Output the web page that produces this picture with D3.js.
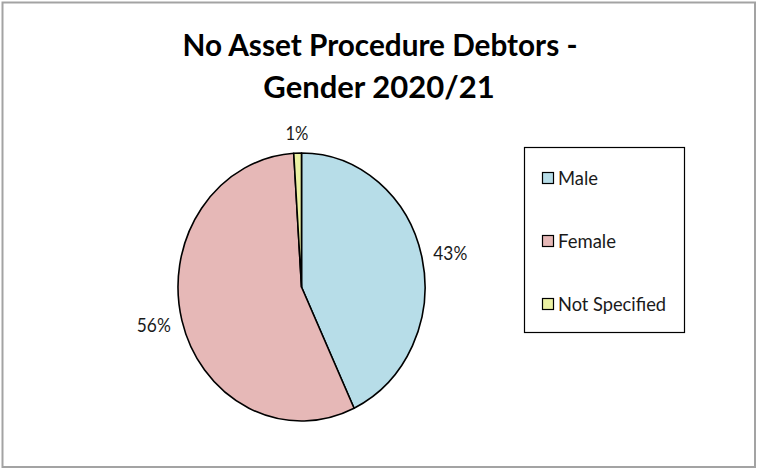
<!DOCTYPE html>
<html>
<head>
<meta charset="utf-8">
<script src="https://cdn.jsdelivr.net/npm/d3@7"></script>
<style>
  body { margin: 0; background: #fff; }
  svg { display: block; font-family: Lato, "Open Sans", sans-serif; }
</style>
</head>
<body>
<svg id="chart" width="757" height="469"></svg>
<script>
// data
var titleLines = ["No Asset Procedure Debtors -", "Gender 2020/21"];
var categories = ["Male", "Female", "Not Specified"];
var values = [43, 56, 1];
var colours = ["#b7dde8", "#e6b8b7", "#ebf1a3"];

var svg = d3.select("#chart");
var W = 757, H = 469;

// outer frame
svg.append("rect")
  .attr("x", 2.5).attr("y", 2.5)
  .attr("width", W - 4.5).attr("height", H - 4.5)
  .attr("fill", "#fff")
  .attr("stroke", "#a3a3a3")
  .attr("stroke-width", 2);

// squeeze a text to a width if it is wider (Calibri is narrower than Lato)
function squeeze(sel, target) {
  var w = sel.node().getComputedTextLength();
  if (w > target) sel.attr("textLength", target).attr("lengthAdjust", "spacingAndGlyphs");
}

// title
var title = svg.append("g");
var t1 = title.append("text")
  .attr("x", 380).attr("y", 56)
  .attr("text-anchor", "middle")
  .attr("font-weight", "bold")
  .attr("font-size", 31)
  .text(titleLines[0]);
squeeze(t1, 395);
var t2 = title.append("text")
  .attr("x", 379).attr("y", 98)
  .attr("text-anchor", "middle")
  .attr("font-weight", "bold")
  .attr("font-size", 31)
  .text(titleLines[1]);
squeeze(t2, 252);

// pie (slightly stretched vertically like the original)
var cx = 301.5, cy = 287, R = 123.5, yScale = 134 / 123.5;
var pie = d3.pie().sort(null).value(function(d) { return d; });
var arc = d3.arc().innerRadius(0).outerRadius(R);
var arcs = pie(values);

var pg = svg.append("g")
  .attr("transform", "translate(" + cx + "," + cy + ") scale(1," + yScale + ")");
pg.selectAll("path")
  .data(arcs).enter()
  .append("path")
  .attr("d", arc)
  .attr("fill", function(d, i) { return colours[i]; })
  .attr("stroke", "#000")
  .attr("stroke-width", 1.6)
  .attr("stroke-linejoin", "round")
  .attr("vector-effect", "non-scaling-stroke");

// percentage labels outside the slices
var total = d3.sum(values);
var lg = svg.append("g");
arcs.forEach(function(d, i) {
  var a = (d.startAngle + d.endAngle) / 2;
  var s = Math.sin(a), c = Math.cos(a);
  var txt = lg.append("text")
    .attr("font-size", 18.5)
    .attr("fill", "#1a1a1a")
    .attr("text-anchor", "middle")
    .text(Math.round(values[i] / total * 100) + "%");
  var w = txt.node().getComputedTextLength();
  var target = txt.text().length === 2 ? 23 : 34;
  if (w > target) { txt.attr("textLength", target).attr("lengthAdjust", "spacingAndGlyphs"); w = target; }
  var hw = w / 2, hh = 8;
  var x = cx + R * s + s * (12 + hw);
  var y = cy - R * yScale * c - c * (12 + hh);
  txt.attr("x", x).attr("y", y + 7);
});

// legend
var legend = svg.append("g");
legend.append("rect")
  .attr("x", 524.5).attr("y", 147.5)
  .attr("width", 160).attr("height", 185)
  .attr("fill", "#fff")
  .attr("stroke", "#000")
  .attr("stroke-width", 1.2);

var legendWidths = [40, 59, 108];
var items = legend.selectAll("g.item")
  .data(categories).enter()
  .append("g")
  .attr("class", "item")
  .attr("transform", function(d, i) { return "translate(542," + (172.5 + i * 63) + ")"; });
items.append("rect")
  .attr("x", 0.5).attr("y", 0)
  .attr("width", 11).attr("height", 11)
  .attr("fill", function(d, i) { return colours[i]; })
  .attr("stroke", "#000")
  .attr("stroke-width", 1.2);
items.append("text")
  .attr("x", 16).attr("y", 12.5)
  .attr("font-size", 18.5)
  .attr("fill", "#1a1a1a")
  .text(function(d) { return d; })
  .each(function(d, i) { squeeze(d3.select(this), legendWidths[i]); });
</script>
</body>
</html>
